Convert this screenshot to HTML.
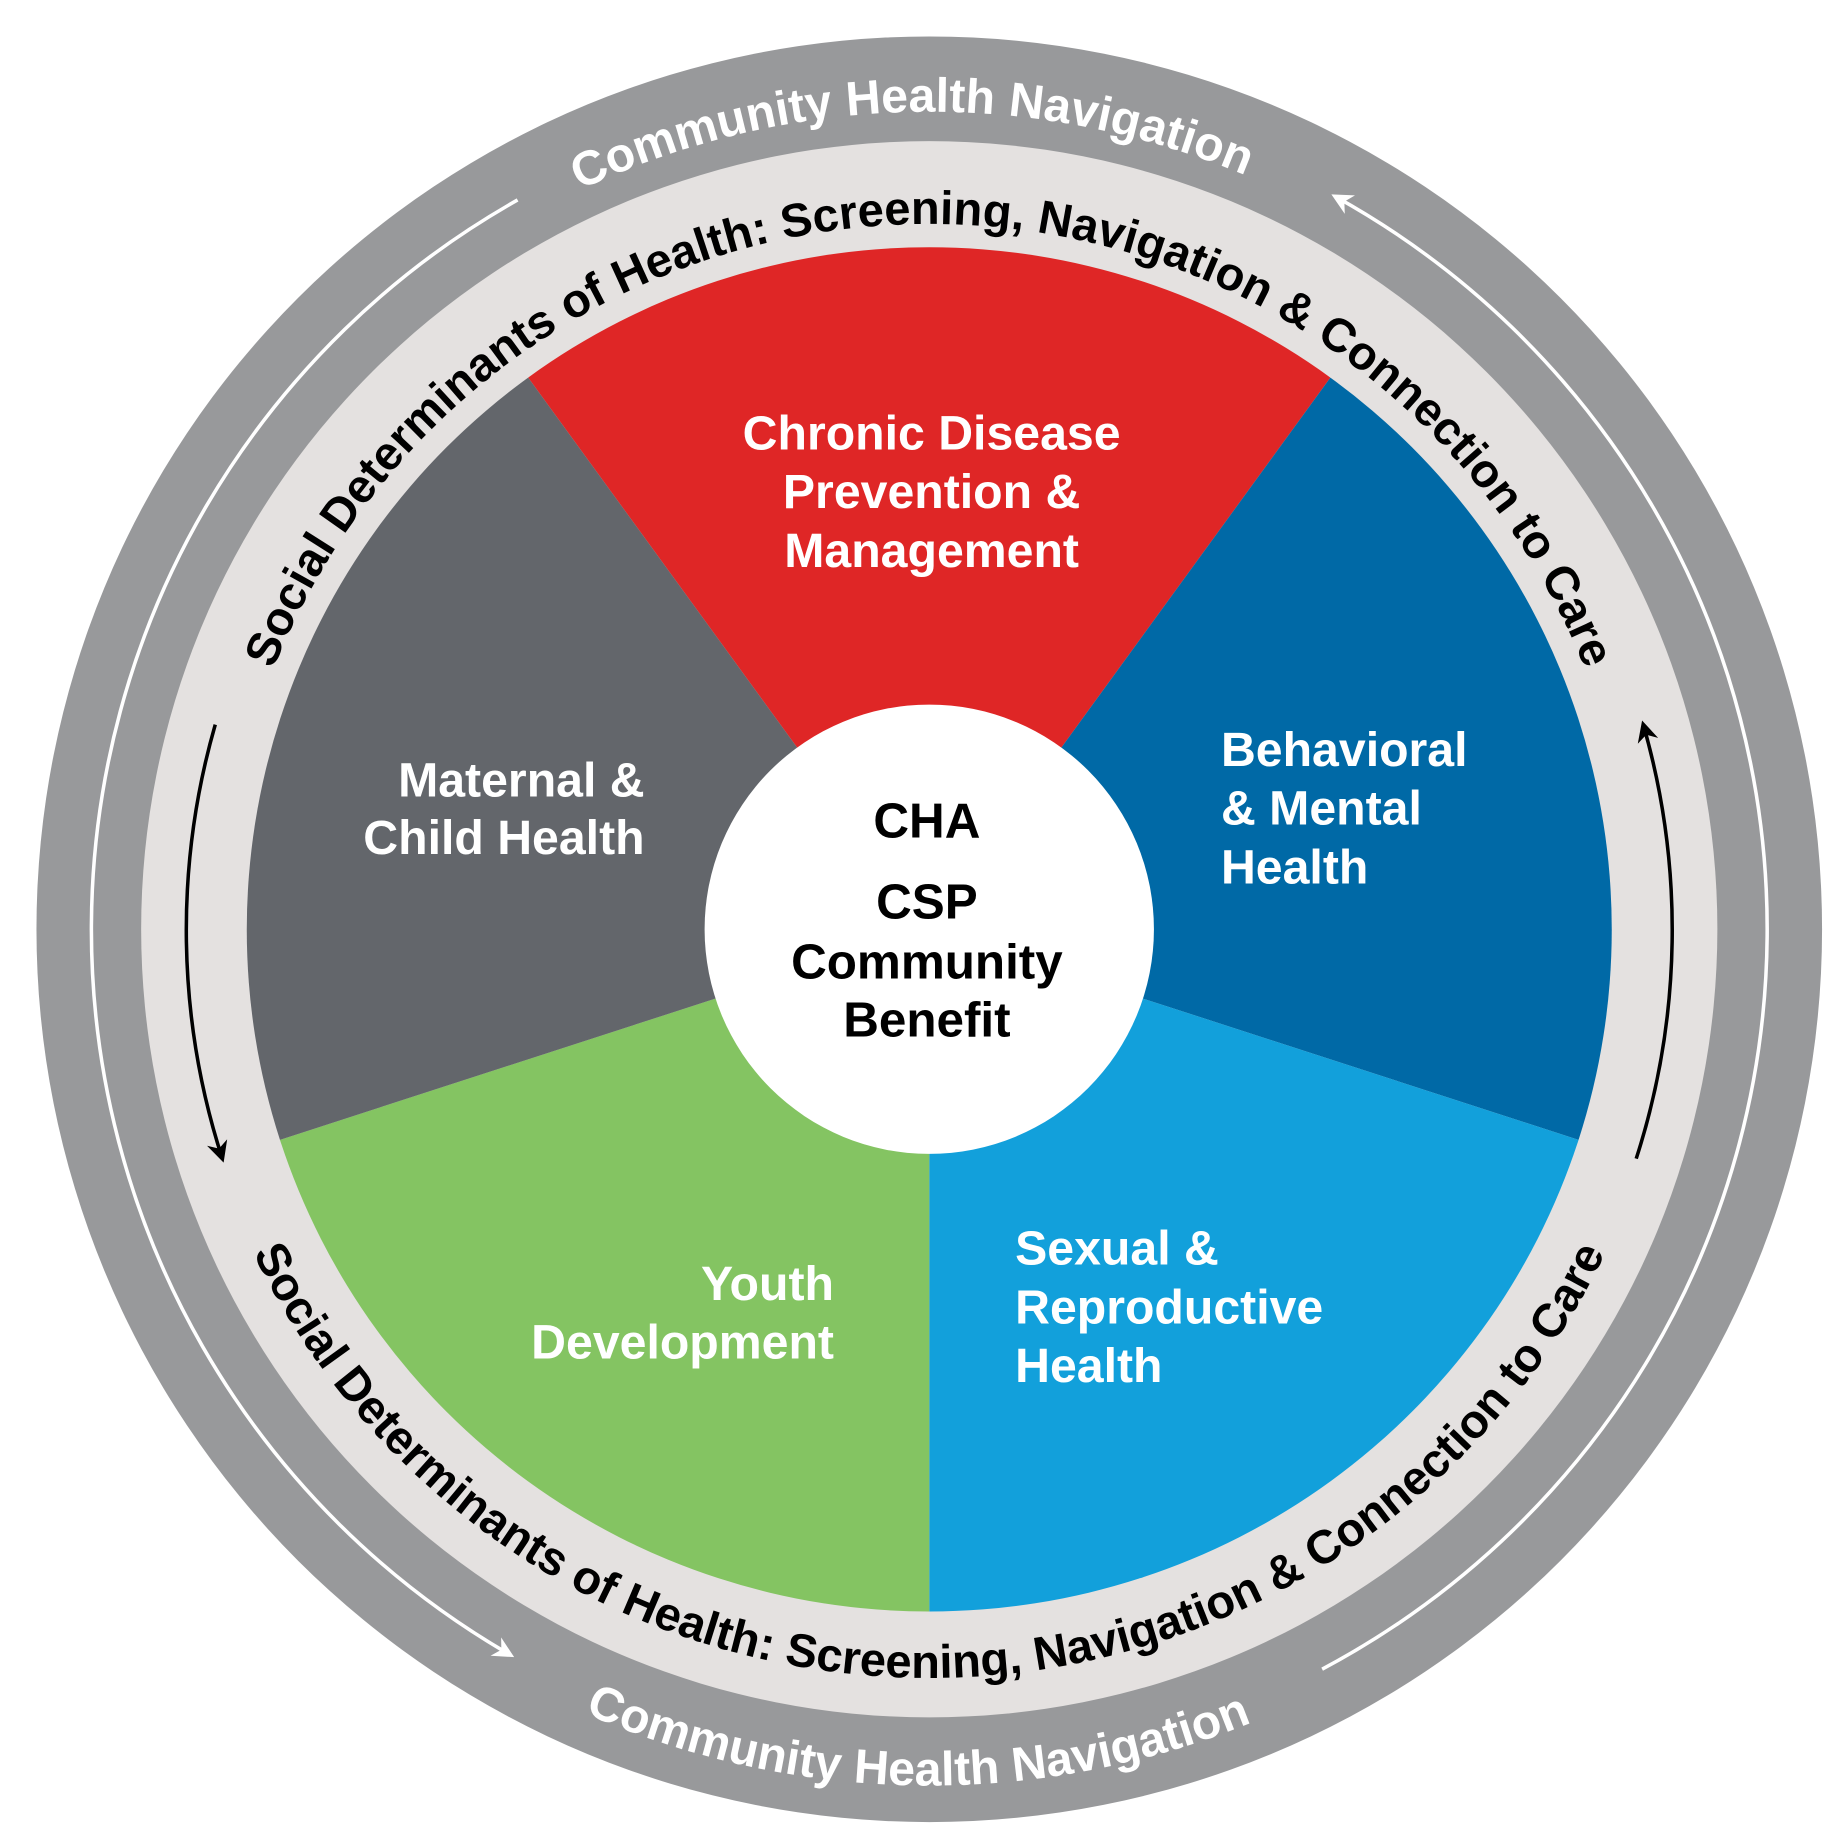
<!DOCTYPE html>
<html><head><meta charset="utf-8"><style>
html,body{margin:0;padding:0;background:#fff;width:1835px;height:1845px;overflow:hidden}
svg{display:block}
text{font-family:"Liberation Sans",sans-serif;font-weight:bold}
</style></head><body>
<svg width="1835" height="1845" viewBox="0 0 1560 1568.5" preserveAspectRatio="none" xmlns="http://www.w3.org/2000/svg">
<defs>
<marker id="aw" viewBox="0 0 10 10" refX="8" refY="5" markerWidth="6" markerHeight="6" orient="auto"><path d="M0,0 L10,5 L0,10 L3,5 Z" fill="#fff"/></marker>
<marker id="ab" viewBox="0 0 10 10" refX="8" refY="5" markerWidth="6" markerHeight="6" orient="auto"><path d="M0,0 L10,5 L0,10 L3,5 Z" fill="#000"/></marker>
<path id="topOuter" d="M95,790 A695,695 0 0 1 1485,790"/>
<path id="topInner" d="M490,1310 A600,600 0 1 1 1090,1310"/>
<path id="botInner" d="M162,901 A638,638 0 0 0 1418,901"/>
<path id="botOuter" d="M73,916 A728,728 0 0 0 1507,916"/>
</defs>
<circle cx="790" cy="790" r="759" fill="#98999b"/>
<circle cx="790" cy="790" r="670" fill="#e4e1e0"/>
<path d="M440,170 A712,712 0 0 0 434,1407" fill="none" stroke="#fff" stroke-width="3" marker-end="url(#aw)"/>
<path d="M1124,1419 A712,712 0 0 0 1135,167" fill="none" stroke="#fff" stroke-width="3" marker-end="url(#aw)"/>
<path d="M183,616 A632,632 0 0 0 189,985" fill="none" stroke="#000" stroke-width="3" marker-end="url(#ab)"/>
<path d="M1391,985 A632,632 0 0 0 1397,616" fill="none" stroke="#000" stroke-width="3" marker-end="url(#ab)"/>
<path d="M790,790 L449,321 A580,580 0 0 1 1131,321 Z" fill="#df2626"/>
<path d="M790,790 L1131,321 A580,580 0 0 1 1342,969 Z" fill="#0069a6"/>
<path d="M790,790 L1342,969 A580,580 0 0 1 790,1370 Z" fill="#12a0db"/>
<path d="M790,790 L790,1370 A580,580 0 0 1 238,969 Z" fill="#84c462"/>
<path d="M790,790 L238,969 A580,580 0 0 1 449,321 Z" fill="#63666b"/>
<circle cx="790" cy="790" r="191" fill="#fff"/>
<text font-size="41" fill="#fff"><textPath href="#topOuter" startOffset="49.3%" text-anchor="middle">Community Health Navigation</textPath></text>
<text font-size="40" fill="#000"><textPath href="#topInner" startOffset="50%" text-anchor="middle">Social Determinants of Health: Screening, Navigation &amp; Connection to Care</textPath></text>
<text font-size="40" fill="#000"><textPath href="#botInner" startOffset="50%" text-anchor="middle">Social Determinants of Health: Screening, Navigation &amp; Connection to Care</textPath></text>
<text font-size="41" fill="#fff"><textPath href="#botOuter" startOffset="49.5%" text-anchor="middle">Community Health Navigation</textPath></text>
<g font-size="41" fill="#fff">
<text x="792" y="382" text-anchor="middle">Chronic Disease</text>
<text x="792" y="432" text-anchor="middle">Prevention &amp;</text>
<text x="792" y="482" text-anchor="middle">Management</text>
<text x="548" y="677" text-anchor="end">Maternal &amp;</text>
<text x="548" y="726" text-anchor="end">Child Health</text>
<text x="1038" y="651">Behavioral</text>
<text x="1038" y="701">&amp; Mental</text>
<text x="1038" y="751">Health</text>
<text x="863" y="1075">Sexual &amp;</text>
<text x="863" y="1125">Reproductive</text>
<text x="863" y="1175">Health</text>
<text x="709" y="1105" text-anchor="end">Youth</text>
<text x="709" y="1155" text-anchor="end">Development</text>
</g>
<g font-size="42" fill="#000" text-anchor="middle">
<text x="788" y="712">CHA</text>
<text x="788" y="781">CSP</text>
<text x="788" y="832">Community</text>
<text x="788" y="881">Benefit</text>
</g>
</svg>
</body></html>
